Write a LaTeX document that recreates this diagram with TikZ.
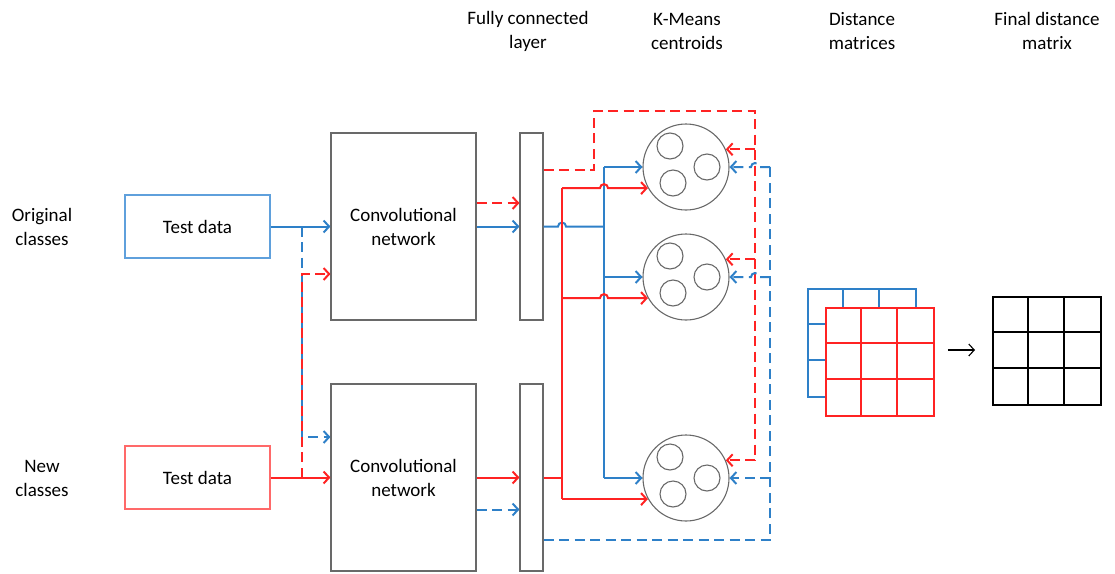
\documentclass[tikz,border=0pt]{standalone}
\usepackage{fontspec}
\setmainfont{Carlito}
\usetikzlibrary{arrows.meta,calc}
\definecolor{netblue}{RGB}{46,128,200}
\definecolor{netred}{RGB}{255,35,35}
\definecolor{boxblue}{RGB}{95,160,220}
\definecolor{boxred}{RGB}{255,105,105}
\definecolor{boxgray}{RGB}{105,105,105}

\begin{document}
\begin{tikzpicture}[x=1pt,y=-1pt,
    font=\fontsize{19}{24}\selectfont,
    >={Straight Barb[length=5.5pt,width=12pt]},
    lbl/.style={align=center,inner sep=0pt},
    box/.style={draw=boxgray,line width=1.1pt,align=center,inner sep=0pt},
    cent/.style={circle,draw=boxgray,line width=1.1pt,minimum size=86pt,inner sep=0pt},
    bl/.style={draw=netblue,line width=2pt},
    rd/.style={draw=netred,line width=2pt},
    dsh/.style={dash pattern=on 10pt off 5.5pt}]
    \useasboundingbox (0,0) rectangle (1115,573);

    % headings
    \node[lbl] (orig) at (42,227) {Original\\classes};
    \node[lbl] (newc) at (42,478) {New\\classes};
    \node[lbl] (hfc) at (528,31) {Fully connected\\layer};
    \node[lbl] (hkm) at (687,31) {K-Means\\centroids};
    \node[lbl] (hdm) at (862,31) {Distance\\matrices};
    \node[lbl] (hfm) at (1047,31) {Final distance\\matrix};

    % blocks
    \node[box,draw=boxblue,minimum width=145pt,minimum height=63pt] (td1) at (197.5,226.5) {Test data};
    \node[box,draw=boxred,minimum width=145pt,minimum height=63pt] (td2) at (197.5,477.5) {Test data};
    \node[box,minimum width=145pt,minimum height=187pt] (cn1) at (403.5,226.5) {Convolutional\\network};
    \node[box,minimum width=145pt,minimum height=187pt] (cn2) at (403.5,477.5) {Convolutional\\network};
    \node[box,minimum width=23pt,minimum height=187pt] (fc1) at (531.5,226.5) {};
    \node[box,minimum width=23pt,minimum height=187pt] (fc2) at (531.5,477.5) {};

    % centroids
    \node[cent] (km1) at (686,167) {};
    \node[cent] (km2) at (686,277) {};
    \node[cent] (km3) at (686,478) {};
    \foreach \k in {km1,km2,km3} {
        \draw[boxgray,line width=1.1pt] ([shift={(-16,-21)}]\k.center) circle (13)
            ([shift={(21,0)}]\k.center) circle (13)
            ([shift={(-13,16)}]\k.center) circle (13);
    }

    % bus lines
    \coordinate (rb) at (562,0);
    \coordinate (bb) at (604,0);
    \coordinate (rtl) at (594,111);
    \coordinate (rtr) at (755,111);
    \coordinate (br) at (770,0);

    % original classes
    \draw[bl,->] (td1) -- (cn1);
    \draw[bl,->] (cn1) -- (fc1);
    \draw[bl] (fc1.east) -- ($(rb |- fc1.east)+(-4,0)$) arc (180:360:4) -- (bb |- fc1.east);
    \draw[bl] (bb |- km1.west) -- (bb |- km3.west);
    \foreach \k in {km1,km2,km3}
        \draw[bl,->] (bb |- \k.west) -- (\k.west);
    \draw[bl,dsh,->] ($(td1.east)+(31,0)$) |- ($(cn2.west)+(0,-40.5)$);
    \draw[bl,dsh,->] ($(cn2.east)+(0,32)$) -- ($(fc2.west)+(0,32)$);

    % new classes
    \draw[rd,->] (td2) -- (cn2);
    \draw[rd,->] (cn2) -- (fc2);
    \draw[rd] (fc2.east) -- (rb |- fc2.east);
    \draw[rd] (rb |- km1.209) -- (rb |- km3.209);
    \foreach \k in {km1,km2}
        \draw[rd,->] (rb |- \k.209) -- ($(bb |- \k.209)+(-4,0)$) arc (180:360:4) -- (\k.209);
    \draw[rd,->] (rb |- km3.209) -- (km3.209);
    \draw[rd,dsh,->] ($(td2.east)+(31,0)$) |- ($(cn1.west)+(0,47.5)$);
    \draw[rd,dsh,->] ($(cn1.east)+(0,-23.5)$) -- ($(fc1.west)+(0,-23.5)$);

    % dashed feedback
    \draw[rd,dsh] ($(fc1.north east)+(0,38)$) -| (rtl) -- (rtr) -- (rtr |- km3.24);
    \foreach \k in {km1,km2,km3}
        \draw[rd,dsh,->] (rtr |- \k.24) -- (\k.24);
    \draw[bl,dsh] ($(fc2.south east)+(0,-32)$) -| (br |- km1.east);
    \foreach \k in {km1,km2}
        \draw[bl,dsh,->] (br |- \k.east) -- ($(rtr |- \k.east)+(4,0)$) arc (0:-180:4) -- (\k.east);
    \draw[bl,dsh,->] (br |- km3.east) -- (km3.east);

    % distance matrices
    \node[draw=netblue,line width=1.8pt,minimum size=108pt,inner sep=0pt] (dmb) at (862,343) {};
    \foreach \i in {1,2} {
        \draw[netblue,line width=1.8pt] ($(dmb.north west)+(36*\i,0)$) -- ($(dmb.south west)+(36*\i,0)$);
        \draw[netblue,line width=1.8pt] ($(dmb.north west)+(0,36*\i)$) -- ($(dmb.north east)+(0,36*\i)$);
    }
    \node[draw=netred,fill=white,line width=1.8pt,minimum size=108pt,inner sep=0pt] (dmr) at (880,362) {};
    \foreach \i in {1,2} {
        \draw[netred,line width=1.8pt] ($(dmr.north west)+(36*\i,0)$) -- ($(dmr.south west)+(36*\i,0)$);
        \draw[netred,line width=1.8pt] ($(dmr.north west)+(0,36*\i)$) -- ($(dmr.north east)+(0,36*\i)$);
    }
    \node[draw=black,line width=2pt,minimum size=108pt,inner sep=0pt] (fm) at (1047,351) {};
    \foreach \i in {1,2} {
        \draw[black,line width=2pt] ($(fm.north west)+(36*\i,0)$) -- ($(fm.south west)+(36*\i,0)$);
        \draw[black,line width=2pt] ($(fm.north west)+(0,36*\i)$) -- ($(fm.north east)+(0,36*\i)$);
    }
    \draw[->,line width=1.1pt] ($(dmr.east)+(13,-12)$) -- ($(fm.west)+(-17,-1)$);
\end{tikzpicture}
\end{document}
